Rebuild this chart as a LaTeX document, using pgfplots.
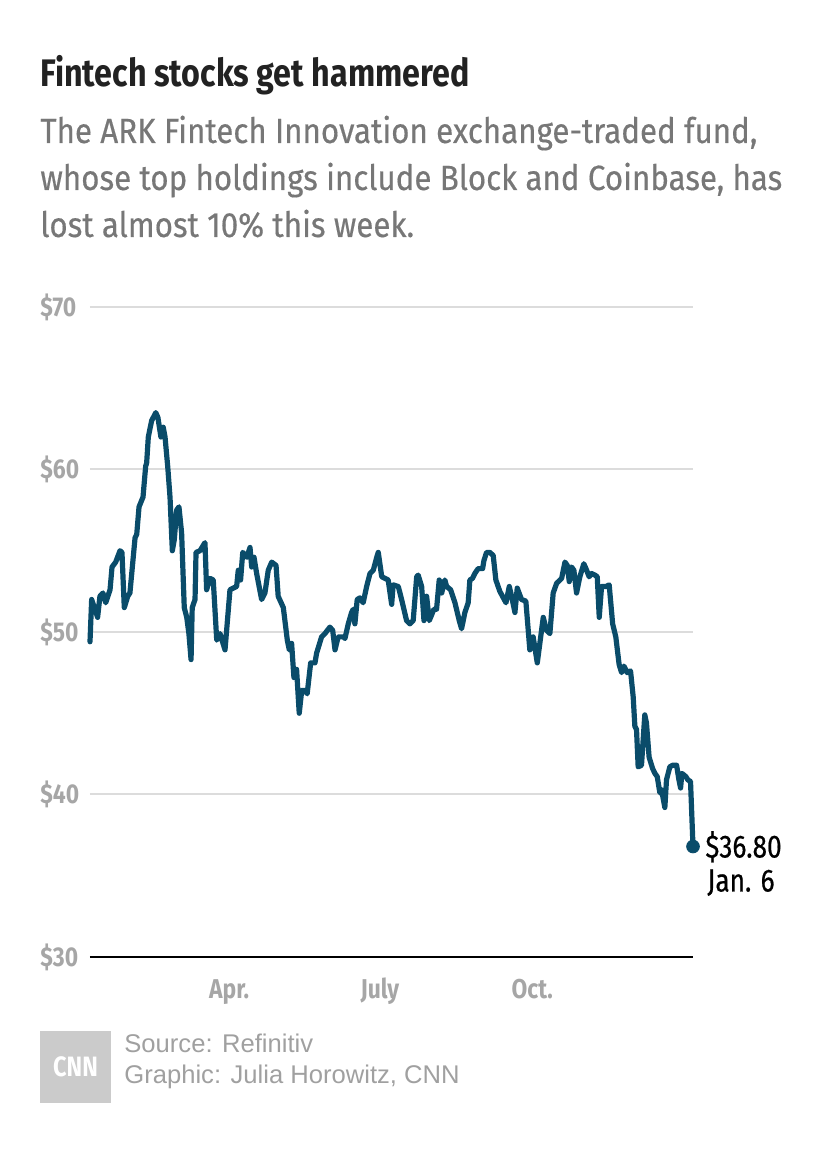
\documentclass[border=0pt]{standalone}
\usepackage{pgfplots}
\pgfplotsset{compat=1.18}
\usepackage{pgfplotstable}
\usepackage{fontspec}
\setmainfont{Fira Sans}
\newfontfamily\condfont{Fira Sans}[FakeStretch=0.84]
\newfontfamily\subfont{Fira Sans}[FakeStretch=0.895, FakeBold=0.4]
\newfontfamily\endfont{Fira Sans}[FakeStretch=0.82, FakeBold=0.5]
\newfontfamily\srcfont{Liberation Sans}
\definecolor{linec}{HTML}{0A4C6A}
\definecolor{titlec}{HTML}{222222}
\definecolor{subc}{HTML}{777777}
\definecolor{tickc}{HTML}{A6A6A6}
\definecolor{gridc}{HTML}{DCDCDC}
\definecolor{srcc}{HTML}{A0A0A0}
\definecolor{logoc}{HTML}{CBCBCB}

% day index since Jan. 7, 2021 ; closing price in $
\pgfplotstableread{
d v
0 49.4
1.0 52.0
4.6 50.9
6.0 52.2
7.8 52.4
9.5 51.8
12.1 52.6
13.3 54.0
15.5 54.3
18.1 55.0
19.3 54.9
20.7 51.5
22.8 52.2
24.1 52.4
27.2 55.8
28.2 56.0
29.6 57.7
32.0 58.3
33.6 60.2
34.2 60.4
35.2 62.0
37.2 63.0
39.7 63.5
41.0 63.2
42.8 62.0
44.2 62.6
45.3 62.0
46.9 60.2
48.3 58.3
49.7 55.0
50.9 55.7
52.3 57.5
53.7 57.7
55.3 56.1
56.9 51.5
58.4 50.9
59.7 49.9
61.0 48.3
61.7 51.5
63.4 52.0
64.0 54.9
66.4 55.0
69.4 55.5
70.4 52.6
72.4 53.3
74.4 53.2
76.5 49.5
78.5 49.9
81.5 48.9
84.5 52.6
88.5 52.8
89.5 53.8
90.9 53.2
92.2 54.9
94.6 54.6
96.6 55.2
97.6 54.0
99.0 54.6
100.6 53.6
103.6 52.0
105.6 52.4
107.6 53.8
109.7 54.3
112.3 54.1
113.6 52.2
116.7 51.5
119.1 49.5
120.3 48.9
121.7 49.3
123.1 47.2
124.7 47.7
126.3 45.0
127.8 46.4
129.8 46.4
131.1 46.2
133.2 48.1
135.8 48.1
136.8 48.7
139.8 49.7
141.8 49.9
144.8 50.3
146.5 50.1
147.9 48.9
149.8 49.7
152.9 49.7
153.9 49.6
155.9 50.5
157.9 51.2
158.9 51.4
159.9 50.5
161.3 52.0
162.9 52.1
164.9 51.8
167.0 52.8
169.0 53.6
171.0 53.8
173.1 54.6
174.0 54.9
176.1 53.4
180.0 53.2
182.1 51.7
183.0 52.9
186.1 52.8
188.1 52.0
191.1 50.7
193.1 50.5
195.1 50.7
197.2 53.4
198.1 53.5
200.2 52.8
201.6 50.7
203.2 52.2
204.8 50.7
207.6 51.4
209.2 51.4
210.8 53.2
212.3 52.4
214.2 53.2
215.3 52.8
217.7 52.6
220.3 51.8
222.9 50.7
224.3 50.2
226.3 51.2
228.3 51.8
229.3 53.2
230.9 53.3
232.3 53.6
234.3 53.9
237.0 53.9
237.8 54.4
239.4 54.9
241.4 54.9
243.4 54.7
245.0 53.2
247.4 52.5
251.1 51.8
253.1 52.8
254.5 52.2
256.5 51.2
257.9 52.7
260.5 52.0
263.1 51.9
265.5 48.9
267.5 49.7
270.0 48.1
273.6 50.9
275.6 50.1
277.6 49.9
279.6 52.4
281.7 53.0
284.7 53.3
286.7 54.3
288.1 54.1
289.3 53.1
290.7 54.0
292.1 53.8
293.7 52.4
295.7 53.4
298.1 54.2
299.8 53.8
301.3 53.4
302.8 53.6
304.8 53.5
306.2 53.4
307.4 50.9
308.8 52.8
311.4 52.8
313.4 52.9
315.5 50.5
317.4 49.7
319.4 48.0
320.9 47.5
322.3 47.9
324.3 47.5
326.3 47.6
327.9 46.0
328.9 44.2
329.9 44.0
330.9 41.7
332.9 41.8
334.9 44.9
335.9 44.4
337.5 42.3
339.6 41.6
341.0 41.3
342.4 41.1
344.0 40.1
345.0 40.3
347.0 39.2
348.0 40.9
350.0 41.7
351.7 41.8
354.1 41.8
355.5 40.9
356.5 40.4
357.3 41.3
358.5 41.2
359.7 41.1
360.9 40.9
362.5 40.8
364 36.8
}\fintech

\pgfplotstableread{
d v
364 36.8
}\lastpt

\begin{document}
\begin{tikzpicture}
\useasboundingbox (-45pt,-98.5pt) rectangle (370pt,478.5pt);
\begin{axis}[
  at={(0pt,0pt)}, anchor=south west,
  scale only axis, width=301.5pt, height=325pt,
  xmin=0, xmax=364, ymin=30, ymax=70,
  clip=false,
  axis line style={draw=none},
  tick style={draw=none},
  ymajorgrids,
  major grid style={draw=gridc, line width=1pt},
  ytick={30,40,50,60,70},
  yticklabels={\$30,\$40,\$50,\$60,\$70},
  xtick={84,175,267},
  xticklabels={Apr.,July,Oct.},
  yticklabel style={anchor=west, xshift=-25pt, inner sep=0pt, font=\condfont\bfseries\fontsize{13.6}{15}\selectfont, text=tickc},
  xticklabel style={anchor=base, yshift=-20.5pt, inner sep=0pt, font=\condfont\bfseries\fontsize{13.6}{15}\selectfont, text=tickc},
]
\draw[black, line width=1pt] (axis cs:0,30) -- (axis cs:364,30);
\addplot[linec, line width=2.6pt, line join=round, line cap=round] table[x=d, y=v] {\fintech};
\addplot[only marks, mark=*, mark size=3.2pt, linec, mark options={fill=linec, draw=linec}] table[x=d, y=v] {\lastpt};
\node[anchor=base west, inner sep=0pt, font=\endfont\fontsize{16}{18}\selectfont] at (axis cs:364,36.8) [xshift=6pt, yshift=-5.5pt] {\$36.80};
\node[anchor=base west, inner sep=0pt, font=\endfont\fontsize{16}{18}\selectfont] at (axis cs:364,36.8) [xshift=7pt, yshift=-22.5pt] {Jan. 6};
\end{axis}
% title and subtitle
\node[anchor=base west, inner sep=0pt, text=titlec, font=\condfont\bfseries\fontsize{19.2}{22}\selectfont] at (-25pt,435pt) {Fintech stocks get hammered};
\node[anchor=base west, inner sep=0pt, text=subc, font=\subfont\fontsize{17.5}{20}\selectfont] at (-25pt,407pt) {The ARK Fintech Innovation exchange-traded fund,};
\node[anchor=base west, inner sep=0pt, text=subc, font=\subfont\fontsize{17.5}{20}\selectfont] at (-25pt,383.5pt) {whose top holdings include Block and Coinbase, has};
\node[anchor=base west, inner sep=0pt, text=subc, font=\subfont\fontsize{17.5}{20}\selectfont] at (-25pt,360pt) {lost almost 10\% this week.};
% source block
\fill[logoc] (-25pt,-37pt) rectangle (10.5pt,-73pt);
\node[inner sep=0pt, text=white, font=\condfont\bfseries\fontsize{14}{16}\selectfont] at (-7.25pt,-55pt) {CNN};
\node[anchor=base west, inner sep=0pt, text=srcc, font=\srcfont\fontsize{12.8}{14}\selectfont] at (17pt,-48pt) {Source: Refinitiv};
\node[anchor=base west, inner sep=0pt, text=srcc, font=\srcfont\fontsize{12.8}{14}\selectfont] at (17pt,-63pt) {Graphic: Julia Horowitz, CNN};
\end{tikzpicture}
\end{document}
